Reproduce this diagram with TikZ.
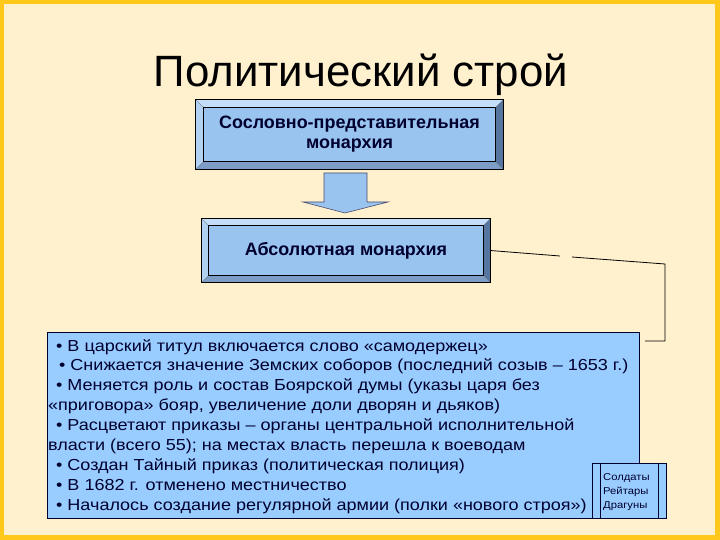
\documentclass[tikz,border=0pt]{standalone}
\usepackage{fontspec}
\setmainfont{Liberation Sans}
\newfontfamily\widefont[FakeStretch=1.13]{Liberation Sans}

\definecolor{slidebg}{HTML}{FFF1CE}
\definecolor{slideedge}{HTML}{FFC81A}
\definecolor{face}{HTML}{9AC4F0}
\definecolor{bevtop}{HTML}{C4DEFA}
\definecolor{bevleft}{HTML}{B2D2F4}
\definecolor{bevright}{HTML}{56769F}
\definecolor{bevbot}{HTML}{7E9DC6}
\definecolor{ink}{HTML}{00002E}
\definecolor{factfill}{HTML}{99CCFF}

% bevel frame round a node: #1 name, #2 depth
\newcommand\bevel[2]{%
  \fill[bevtop] (#1.north west) -- (#1.north east) -- ([shift={(-#2,#2)}]#1.north east) -- ([shift={(#2,#2)}]#1.north west) -- cycle;
  \fill[bevleft] (#1.north west) -- ([shift={(#2,#2)}]#1.north west) -- ([shift={(#2,-#2)}]#1.south west) -- (#1.south west) -- cycle;
  \fill[bevright] (#1.north east) -- (#1.south east) -- ([shift={(-#2,-#2)}]#1.south east) -- ([shift={(-#2,#2)}]#1.north east) -- cycle;
  \fill[bevbot] (#1.south west) -- ([shift={(#2,-#2)}]#1.south west) -- ([shift={(-#2,-#2)}]#1.south east) -- (#1.south east) -- cycle;
  \draw[black!60,very thin] (#1.north west) -- ([shift={(#2,#2)}]#1.north west)
    (#1.north east) -- ([shift={(-#2,#2)}]#1.north east)
    (#1.south west) -- ([shift={(#2,-#2)}]#1.south west)
    (#1.south east) -- ([shift={(-#2,-#2)}]#1.south east);
  \draw[black,line width=0.8pt] (#1.north west) rectangle (#1.south east);
  \draw[black,line width=0.8pt] ([shift={(#2,#2)}]#1.north west) rectangle ([shift={(-#2,-#2)}]#1.south east);
}

\begin{document}
\begin{tikzpicture}[x=1bp,y=-1bp]
  \tikzset{
    bevbox/.style={fill=face, inner sep=0pt, align=center, text=ink,
      font=\bfseries\fontsize{18}{20}\selectfont},
    factbox/.style={fill=factfill, draw=ink, line width=0.8pt, inner sep=0pt},
    arrowshape/.style={fill=face, draw=ink!70, line width=0.6pt, line join=miter},
    link/.style={draw=black, line width=0.8pt}
  }
  % slide
  \fill[slideedge] (0,0) rectangle (720,540);
  \fill[slidebg] (4,4) rectangle (715,535);
  \useasboundingbox (0,0) rectangle (720,540);

  \node[font=\fontsize{44}{50}\selectfont, anchor=base] (title) at (361,87) {Политический строй};

  % upper box
  \node[bevbox, minimum width=307bp, minimum height=69bp] (estate) at (349.5,134.5) {};
  \bevel{estate}{8}
  \node[bevbox] (estatetext) at (estate.center) {Сословно-представительная\\монархия};

  % block arrow
  \draw[arrowshape] (324,173) -- (367,173) -- (367,202) -- (388,202) -- (345,213)
    -- (303,202) -- (324,202) -- cycle;

  % lower box
  \node[bevbox, minimum width=288bp, minimum height=63bp] (absolute) at (346,250.5) {};
  \bevel{absolute}{7}
  \node[bevbox] (absolutetext) at (absolute.center) {Абсолютная монархия};

  % connector
  \coordinate (gapA) at (560,256);
  \coordinate (gapB) at (572,257);
  \coordinate (bend) at (665,264);
  \coordinate (linkend) at (645,341);
  \draw[link] (absolute.east) -- (gapA);
  \draw[link] (gapB) -- (bend) |- (linkend);

  % list of changes
  \node[factbox, minimum width=592bp, minimum height=186bp] (facts) at (343,425) {};
  \node[anchor=north west, inner sep=0pt, align=left, text=ink,
    font=\widefont\fontsize{16}{20}\selectfont] (factlist) at (48,339) {%
    \hspace*{8bp}• В царский титул включается слово «самодержец»\\
    \hspace*{11bp}• Снижается значение Земских соборов (последний созыв – 1653 г.)\\
    \hspace*{8bp}• Меняется роль и состав Боярской думы (указы царя без\\
    «приговора» бояр, увеличение доли дворян и дьяков)\\
    \hspace*{8bp}• Расцветают приказы – органы центральной исполнительной\\
    власти (всего 55); на местах власть перешла к воеводам\\
    \hspace*{8bp}• Создан Тайный приказ (политическая полиция)\\
    \hspace*{8bp}• В 1682 г. отменено местничество\\
    \hspace*{8bp}• Началось создание регулярной армии (полки «нового строя»)};

  % troops
  \node[factbox, minimum width=74bp, minimum height=55bp] (troops) at (629,490.5) {};
  \draw[ink, line width=0.8pt] ([xshift=9bp]troops.north west) -- ([xshift=9bp]troops.south west)
    ([xshift=-8bp]troops.north east) -- ([xshift=-8bp]troops.south east);
  \node[anchor=west, inner sep=0pt, align=left, text=ink,
    font=\widefont\fontsize{10}{14}\selectfont] (troopslist) at (603,492) {Солдаты\\Рейтары\\Драгуны};
\end{tikzpicture}
\end{document}
